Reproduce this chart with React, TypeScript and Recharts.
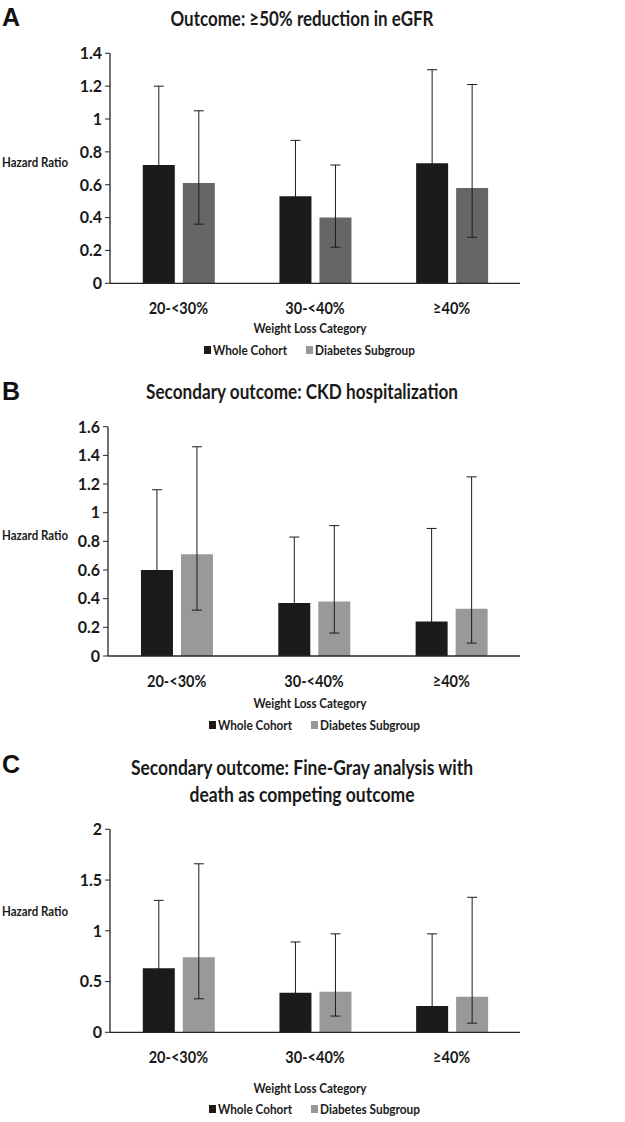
import React from 'react';
import { BarChart, Bar, XAxis, YAxis, ErrorBar } from 'recharts';

const categories = ['20-<30%', '30-<40%', '≥40%'];
const seriesNames = ['Whole Cohort', 'Diabetes Subgroup'];

// Panel A: ≥50% reduction in eGFR
const aWhole = [0.72, 0.53, 0.73];
const aWholeLow = [0.45, 0.32, 0.42];
const aWholeHigh = [1.2, 0.87, 1.3];
const aDiab = [0.61, 0.4, 0.58];
const aDiabLow = [0.36, 0.22, 0.28];
const aDiabHigh = [1.05, 0.72, 1.21];
const aTicks = [0, 0.2, 0.4, 0.6, 0.8, 1, 1.2, 1.4];

// Panel B: CKD hospitalization
const bWhole = [0.6, 0.37, 0.24];
const bWholeLow = [0.31, 0.17, 0.06];
const bWholeHigh = [1.16, 0.83, 0.89];
const bDiab = [0.71, 0.38, 0.33];
const bDiabLow = [0.32, 0.16, 0.09];
const bDiabHigh = [1.46, 0.91, 1.25];
const bTicks = [0, 0.2, 0.4, 0.6, 0.8, 1, 1.2, 1.4, 1.6];

// Panel C: Fine-Gray analysis
const cWhole = [0.63, 0.39, 0.26];
const cWholeLow = [0.31, 0.17, 0.07];
const cWholeHigh = [1.3, 0.89, 0.97];
const cDiab = [0.74, 0.4, 0.35];
const cDiabLow = [0.33, 0.16, 0.09];
const cDiabHigh = [1.66, 0.97, 1.33];
const cTicks = [0, 0.5, 1, 1.5, 2];

const buildRows = (w: number[], wl: number[], wh: number[], d: number[], dl: number[], dh: number[]) =>
  categories.map((cat, i) => ({
    cat,
    whole: w[i],
    wholeErr: [w[i] - wl[i], wh[i] - w[i]],
    diab: d[i],
    diabErr: [d[i] - dl[i], dh[i] - d[i]],
  }));

const FONT = 'Lato, "Open Sans", sans-serif';
const BLACK = '#1b1b1b';
const LINE = '#262626';
const TEXT = '#1a1a1a';

type PanelProps = {
  top: number;
  height: number;
  plotTop: number;
  plotBottom: number;
  axisX: number;
  ticks: number[];
  rows: any[];
  diabColor: string;
};

const XAXIS_H = 30;

const XTick = (props: any) => {
  const { x, y, payload } = props;
  return (
    <text
      transform={`translate(${x},${y + 11.5}) scale(0.88,1)`}
      textAnchor="middle"
      fontFamily={FONT}
      fontWeight={700}
      fontSize={16.5}
      fill={TEXT}
    >
      {payload.value}
    </text>
  );
};

const YTick = (props: any) => {
  const { x, y, payload } = props;
  return (
    <text
      transform={`translate(${x},${y + 5.8}) scale(0.97,1)`}
      textAnchor="end"
      fontFamily={FONT}
      fontWeight={700}
      fontSize={16.5}
      fill={TEXT}
    >
      {String(payload.value)}
    </text>
  );
};

function Panel({ top, height, plotTop, plotBottom, axisX, ticks, rows, diabColor }: PanelProps) {
  const mTop = plotTop - top;
  const mBottom = top + height - plotBottom - XAXIS_H;
  return (
    <div style={{ position: 'absolute', left: 0, top }}>
      <BarChart
        width={625}
        height={height}
        data={rows}
        margin={{ top: mTop, right: 105, left: 0, bottom: mBottom }}
        barCategoryGap="24%"
        barGap={8}
      >
        <XAxis
          dataKey="cat"
          height={XAXIS_H}
          tickLine={false}
          axisLine={{ stroke: LINE, strokeWidth: 1.3 }}
          tick={<XTick />}
          tickSize={6}
          tickMargin={13}
          interval={0}
        />
        <YAxis
          width={axisX}
          domain={[0, ticks[ticks.length - 1]]}
          ticks={ticks}
          interval={0}
          tickSize={5}
          tickMargin={3}
          axisLine={{ stroke: LINE, strokeWidth: 1.3 }}
          tickLine={{ stroke: LINE }}
          tick={<YTick />}
        />
        <Bar dataKey="whole" fill={BLACK} isAnimationActive={false}>
          <ErrorBar dataKey="wholeErr" width={5} stroke={BLACK} strokeWidth={1} direction="y" isAnimationActive={false} />
        </Bar>
        <Bar dataKey="diab" fill={diabColor} isAnimationActive={false}>
          <ErrorBar dataKey="diabErr" width={5} stroke={BLACK} strokeWidth={1} direction="y" isAnimationActive={false} />
        </Bar>
      </BarChart>
    </div>
  );
}

type Deco = {
  letter: string;
  letterBase: number;
  titles: { text: string; base: number; len: number }[];
  hrBase: number;
  wlBase: number;
  legBase: number;
  legX: [number, number];
};

const decos: Deco[] = [
  {
    letter: 'A', letterBase: 26,
    titles: [{ text: 'Outcome: ≥50% reduction in eGFR', base: 26, len: 263 }],
    hrBase: 167, wlBase: 333, legBase: 355, legX: [204, 306],
  },
  {
    letter: 'B', letterBase: 400,
    titles: [{ text: 'Secondary outcome: CKD hospitalization', base: 399, len: 312 }],
    hrBase: 540, wlBase: 708, legBase: 730, legX: [209, 311],
  },
  {
    letter: 'C', letterBase: 773,
    titles: [
      { text: 'Secondary outcome: Fine-Gray analysis with', base: 775, len: 342 },
      { text: 'death as competing outcome', base: 802, len: 225 },
    ],
    hrBase: 916, wlBase: 1093, legBase: 1114, legX: [209, 311],
  },
];

const legendColors = [BLACK, '#999999'];
const legendLens = [74, 100];

function Overlay() {
  return (
    <svg width={625} height={1122} style={{ position: 'absolute', left: 0, top: 0, pointerEvents: 'none' }}>
      {decos.map((d) => (
        <g key={d.letter}>
          <text x={2} y={d.letterBase} fontFamily='"Liberation Sans", Arial, sans-serif' fontWeight={700} fontSize={25} fill="#111">
            {d.letter}
          </text>
          {d.titles.map((t) => (
            <text
              key={t.text}
              x={302 - t.len / 2}
              y={t.base}
              textLength={t.len}
              lengthAdjust="spacingAndGlyphs"
              fontFamily={FONT}
              fontWeight={700}
              fontSize={20}
              fill={TEXT}
            >
              {t.text}
            </text>
          ))}
          <text x={2} y={d.hrBase} textLength={66} lengthAdjust="spacingAndGlyphs" fontFamily={FONT} fontWeight={700} fontSize={12.5} fill={TEXT}>
            Hazard Ratio
          </text>
          <text x={310 - 56.5} y={d.wlBase} textLength={113} lengthAdjust="spacingAndGlyphs" fontFamily={FONT} fontWeight={700} fontSize={14} fill={TEXT}>
            Weight Loss Category
          </text>
          {seriesNames.map((name, k) => (
            <g key={name}>
              <rect x={d.legX[k]} y={d.legBase - 9} width={7} height={8} fill={legendColors[k]} />
              <text
                x={d.legX[k] + 9}
                y={d.legBase}
                textLength={legendLens[k]}
                lengthAdjust="spacingAndGlyphs"
                fontFamily={FONT}
                fontWeight={700}
                fontSize={14}
                fill={TEXT}
              >
                {name}
              </text>
            </g>
          ))}
        </g>
      ))}
    </svg>
  );
}

export default function App() {
  const rowsA = buildRows(aWhole, aWholeLow, aWholeHigh, aDiab, aDiabLow, aDiabHigh);
  const rowsB = buildRows(bWhole, bWholeLow, bWholeHigh, bDiab, bDiabLow, bDiabHigh);
  const rowsC = buildRows(cWhole, cWholeLow, cWholeHigh, cDiab, cDiabLow, cDiabHigh);
  return (
    <div style={{ position: 'absolute', left: 0, top: 0, width: 625, height: 1122, background: '#fff' }}>
      <Panel top={0} height={370} plotTop={53.3} plotBottom={283.3} axisX={110} ticks={aTicks} rows={rowsA} diabColor="#666666" />
      <Panel top={370} height={370} plotTop={426.7} plotBottom={656} axisX={108} ticks={bTicks} rows={rowsB} diabColor="#999999" />
      <Panel top={740} height={382} plotTop={829.3} plotBottom={1032.3} axisX={110} ticks={cTicks} rows={rowsC} diabColor="#999999" />
      <Overlay />
    </div>
  );
}
